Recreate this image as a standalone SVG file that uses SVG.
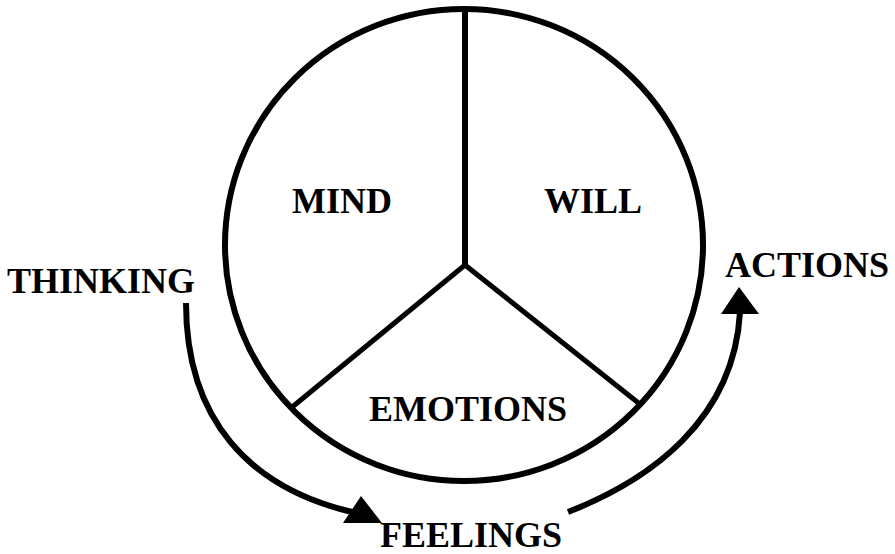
<svg xmlns="http://www.w3.org/2000/svg" width="895" height="554" viewBox="0 0 895 554">
<style>
text { font-family: "Liberation Serif", "Times New Roman", serif; font-weight: bold; font-size: 36px; fill: #000; }
.shape { fill: none; stroke: #000; stroke-linecap: butt; }
.conn { fill: none; stroke: #000; stroke-width: 6; }
</style>
<rect width="895" height="554" fill="#fff"/>
<g id="circle">
  <ellipse class="shape" cx="464" cy="245" rx="239" ry="236" stroke-width="6"/>
  <line class="shape" x1="465" y1="9" x2="465" y2="265" stroke-width="6"/>
  <line class="shape" x1="465" y1="265" x2="291" y2="408" stroke-width="5"/>
  <line class="shape" x1="465" y1="265" x2="641" y2="405" stroke-width="5"/>
</g>
<g id="mind"><text x="292" y="213">MIND</text></g>
<g id="will"><text x="544" y="213">WILL</text></g>
<g id="emotions"><text x="369" y="421">EMOTIONS</text></g>
<g id="thinking"><text x="7" y="293">THINKING</text></g>
<g id="feelings"><text x="380" y="547">FEELINGS</text></g>
<g id="actions"><text x="725" y="277">ACTIONS</text></g>
<g id="connectors">
  <path class="conn" d="M186,303 C186,420 250,488 352,512"/>
  <polygon points="343,523 361,496 382,523" fill="#000"/>
  <path class="conn" d="M568,512 C650,480 734,420 740,312"/>
  <polygon points="721,314 739,287 759,314" fill="#000"/>
</g>
</svg>
